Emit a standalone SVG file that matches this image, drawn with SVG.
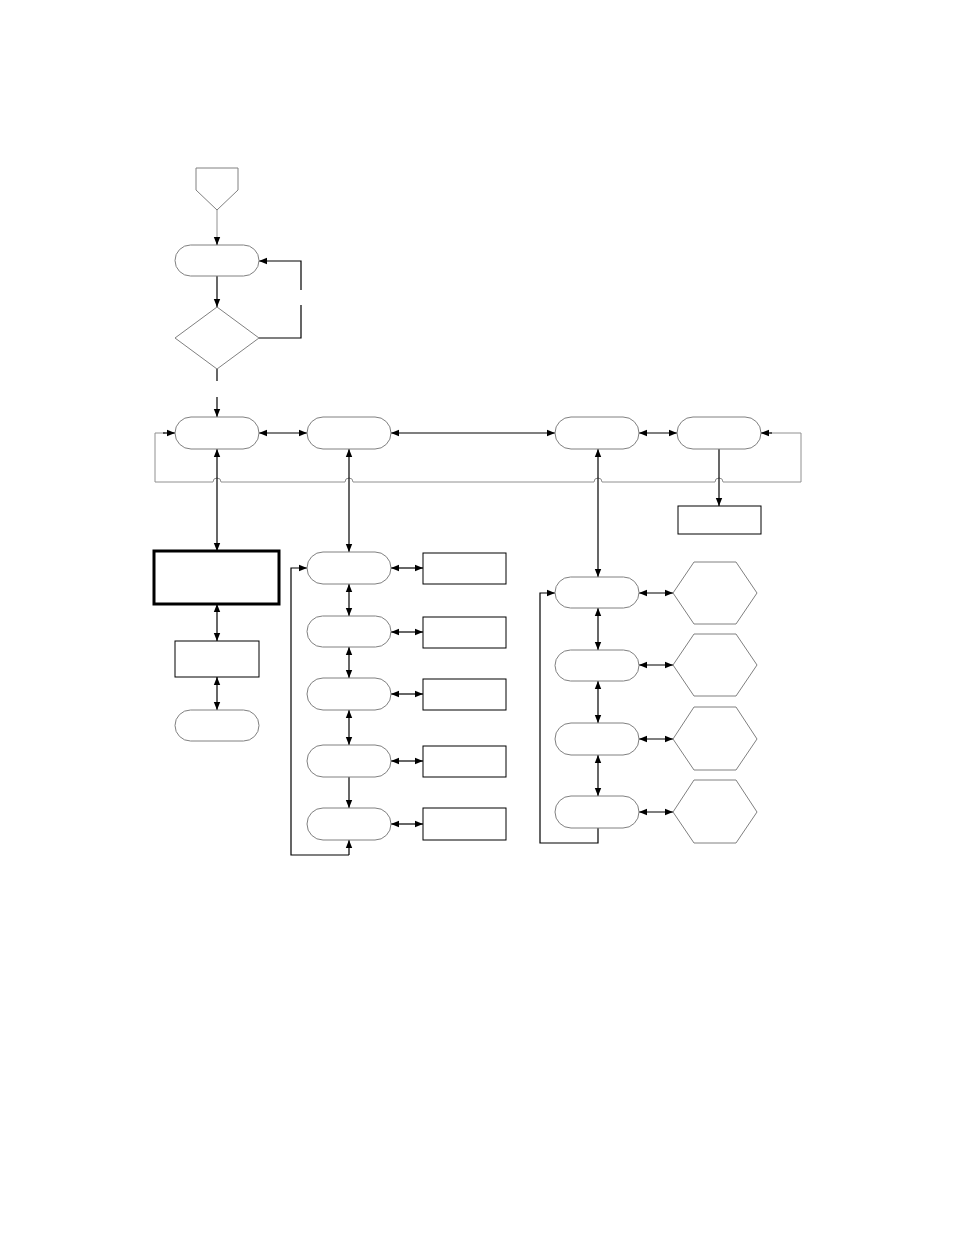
<svg xmlns="http://www.w3.org/2000/svg" width="954" height="1235" viewBox="0 0 954 1235">
<defs>
<marker id="a" viewBox="0 0 10 10" refX="10" refY="5" markerWidth="7" markerHeight="7" orient="auto-start-reverse"><path d="M0,1 L10,5 L0,9 z" fill="#000"/></marker>
<style>
.t{fill:#fff;stroke:#808080;stroke-width:1}
.r{fill:#fff;stroke:#000;stroke-width:1}
.c{fill:none;stroke:#000;stroke-width:1.2}
.g{fill:none;stroke:#909090;stroke-width:1}
</style>
</defs>
<rect width="954" height="1235" fill="#fff"/>
<g id="connectors">
<path class="g" d="M217,210 V240"/><path class="c" d="M217,238 V245" marker-end="url(#a)"/>
<path class="c" d="M217,276 V307" marker-end="url(#a)"/>
<path class="c" d="M259,338 H301 V305 M301,290 V261 H259" marker-end="url(#a)"/>
<path class="c" d="M217,369 V381 M217,397 V417" marker-end="url(#a)"/>
<path class="c" d="M259,433 H307" marker-start="url(#a)" marker-end="url(#a)"/>
<path class="c" d="M391,433 H555" marker-start="url(#a)" marker-end="url(#a)"/>
<path class="c" d="M639,433 H677" marker-start="url(#a)" marker-end="url(#a)"/>
<path class="g" d="M801,433 V482 H723 a4,4 0 0 0 -8,0 H602 a4,4 0 0 0 -8,0 H353 a4,4 0 0 0 -8,0 H221 a4,4 0 0 0 -8,0 H155 V433 H165"/>
<path class="c" d="M163,433 H175" marker-end="url(#a)"/>
<path class="g" d="M801,433 H770"/><path class="c" d="M772,433 H761" marker-end="url(#a)"/>
<path class="c" d="M217,449 V551" marker-start="url(#a)" marker-end="url(#a)"/>
<path class="c" d="M217,604 V641" marker-start="url(#a)" marker-end="url(#a)"/>
<path class="c" d="M217,677 V710" marker-start="url(#a)" marker-end="url(#a)"/>
<path class="c" d="M349,449 V552" marker-start="url(#a)" marker-end="url(#a)"/>
<path class="c" d="M349,584 V616" marker-start="url(#a)" marker-end="url(#a)"/>
<path class="c" d="M349,647 V678" marker-start="url(#a)" marker-end="url(#a)"/>
<path class="c" d="M349,710 V745" marker-start="url(#a)" marker-end="url(#a)"/>
<path class="c" d="M349,777 V808" marker-end="url(#a)"/>
<path class="c" d="M349,855 H291 V568 H307" marker-end="url(#a)"/>
<path class="c" d="M349,855 V840" marker-end="url(#a)"/>
<path class="c" d="M391,568 H423" marker-start="url(#a)" marker-end="url(#a)"/>
<path class="c" d="M391,632 H423" marker-start="url(#a)" marker-end="url(#a)"/>
<path class="c" d="M391,694 H423" marker-start="url(#a)" marker-end="url(#a)"/>
<path class="c" d="M391,761 H423" marker-start="url(#a)" marker-end="url(#a)"/>
<path class="c" d="M391,824 H423" marker-start="url(#a)" marker-end="url(#a)"/>
<path class="c" d="M598,449 V577" marker-start="url(#a)" marker-end="url(#a)"/>
<path class="c" d="M598,608 V650" marker-start="url(#a)" marker-end="url(#a)"/>
<path class="c" d="M598,681 V723" marker-start="url(#a)" marker-end="url(#a)"/>
<path class="c" d="M598,755 V796" marker-start="url(#a)" marker-end="url(#a)"/>
<path class="c" d="M598,828 V843 H540 V593 H555" marker-end="url(#a)"/>
<path class="c" d="M639,593 H673" marker-start="url(#a)" marker-end="url(#a)"/>
<path class="c" d="M639,665 H673" marker-start="url(#a)" marker-end="url(#a)"/>
<path class="c" d="M639,739 H673" marker-start="url(#a)" marker-end="url(#a)"/>
<path class="c" d="M639,812 H673" marker-start="url(#a)" marker-end="url(#a)"/>
<path class="c" d="M719,449 V506" marker-end="url(#a)"/>
</g>
<g id="start"><polygon class="t" points="196,168 238,168 238,190 217,210 196,190"/></g>
<g id="n1"><rect class="t" x="175" y="245" width="84" height="31" rx="15.5"/></g>
<g id="dec"><polygon class="t" points="217,307 259,338 217,369 175,338"/></g>
<g id="A"><rect class="t" x="175" y="417" width="84" height="32" rx="16"/></g>
<g id="B"><rect class="t" x="307" y="417" width="84" height="32" rx="16"/></g>
<g id="C"><rect class="t" x="555" y="417" width="84" height="32" rx="16"/></g>
<g id="D"><rect class="t" x="677" y="417" width="84" height="32" rx="16"/></g>
<g id="Dr"><rect class="r" x="678" y="506" width="83" height="28"/></g>
<g id="thick"><rect x="154" y="551" width="125" height="53" fill="#fff" stroke="#000" stroke-width="3"/></g>
<g id="A2"><rect class="r" x="175" y="641" width="84" height="36"/></g>
<g id="A3"><rect class="t" x="175" y="710" width="84" height="31" rx="15.5"/></g>
<g id="B1"><rect class="t" x="307" y="552" width="84" height="32" rx="16"/><rect class="r" x="423" y="553" width="83" height="31"/></g>
<g id="B2"><rect class="t" x="307" y="616" width="84" height="31" rx="15.5"/><rect class="r" x="423" y="617" width="83" height="31"/></g>
<g id="B3"><rect class="t" x="307" y="678" width="84" height="32" rx="16"/><rect class="r" x="423" y="679" width="83" height="31"/></g>
<g id="B4"><rect class="t" x="307" y="745" width="84" height="32" rx="16"/><rect class="r" x="423" y="746" width="83" height="31"/></g>
<g id="B5"><rect class="t" x="307" y="808" width="84" height="32" rx="16"/><rect class="r" x="423" y="808" width="83" height="32"/></g>
<g id="C1"><rect class="t" x="555" y="577" width="84" height="31" rx="15.5"/><polygon class="t" points="694,562 736,562 757,593 736,624 694,624 673,593"/></g>
<g id="C2"><rect class="t" x="555" y="650" width="84" height="31" rx="15.5"/><polygon class="t" points="694,634 736,634 757,665 736,696 694,696 673,665"/></g>
<g id="C3"><rect class="t" x="555" y="723" width="84" height="32" rx="16"/><polygon class="t" points="694,707 736,707 757,739 736,770 694,770 673,739"/></g>
<g id="C4"><rect class="t" x="555" y="796" width="84" height="32" rx="16"/><polygon class="t" points="694,780 736,780 757,812 736,843 694,843 673,812"/></g>
</svg>
